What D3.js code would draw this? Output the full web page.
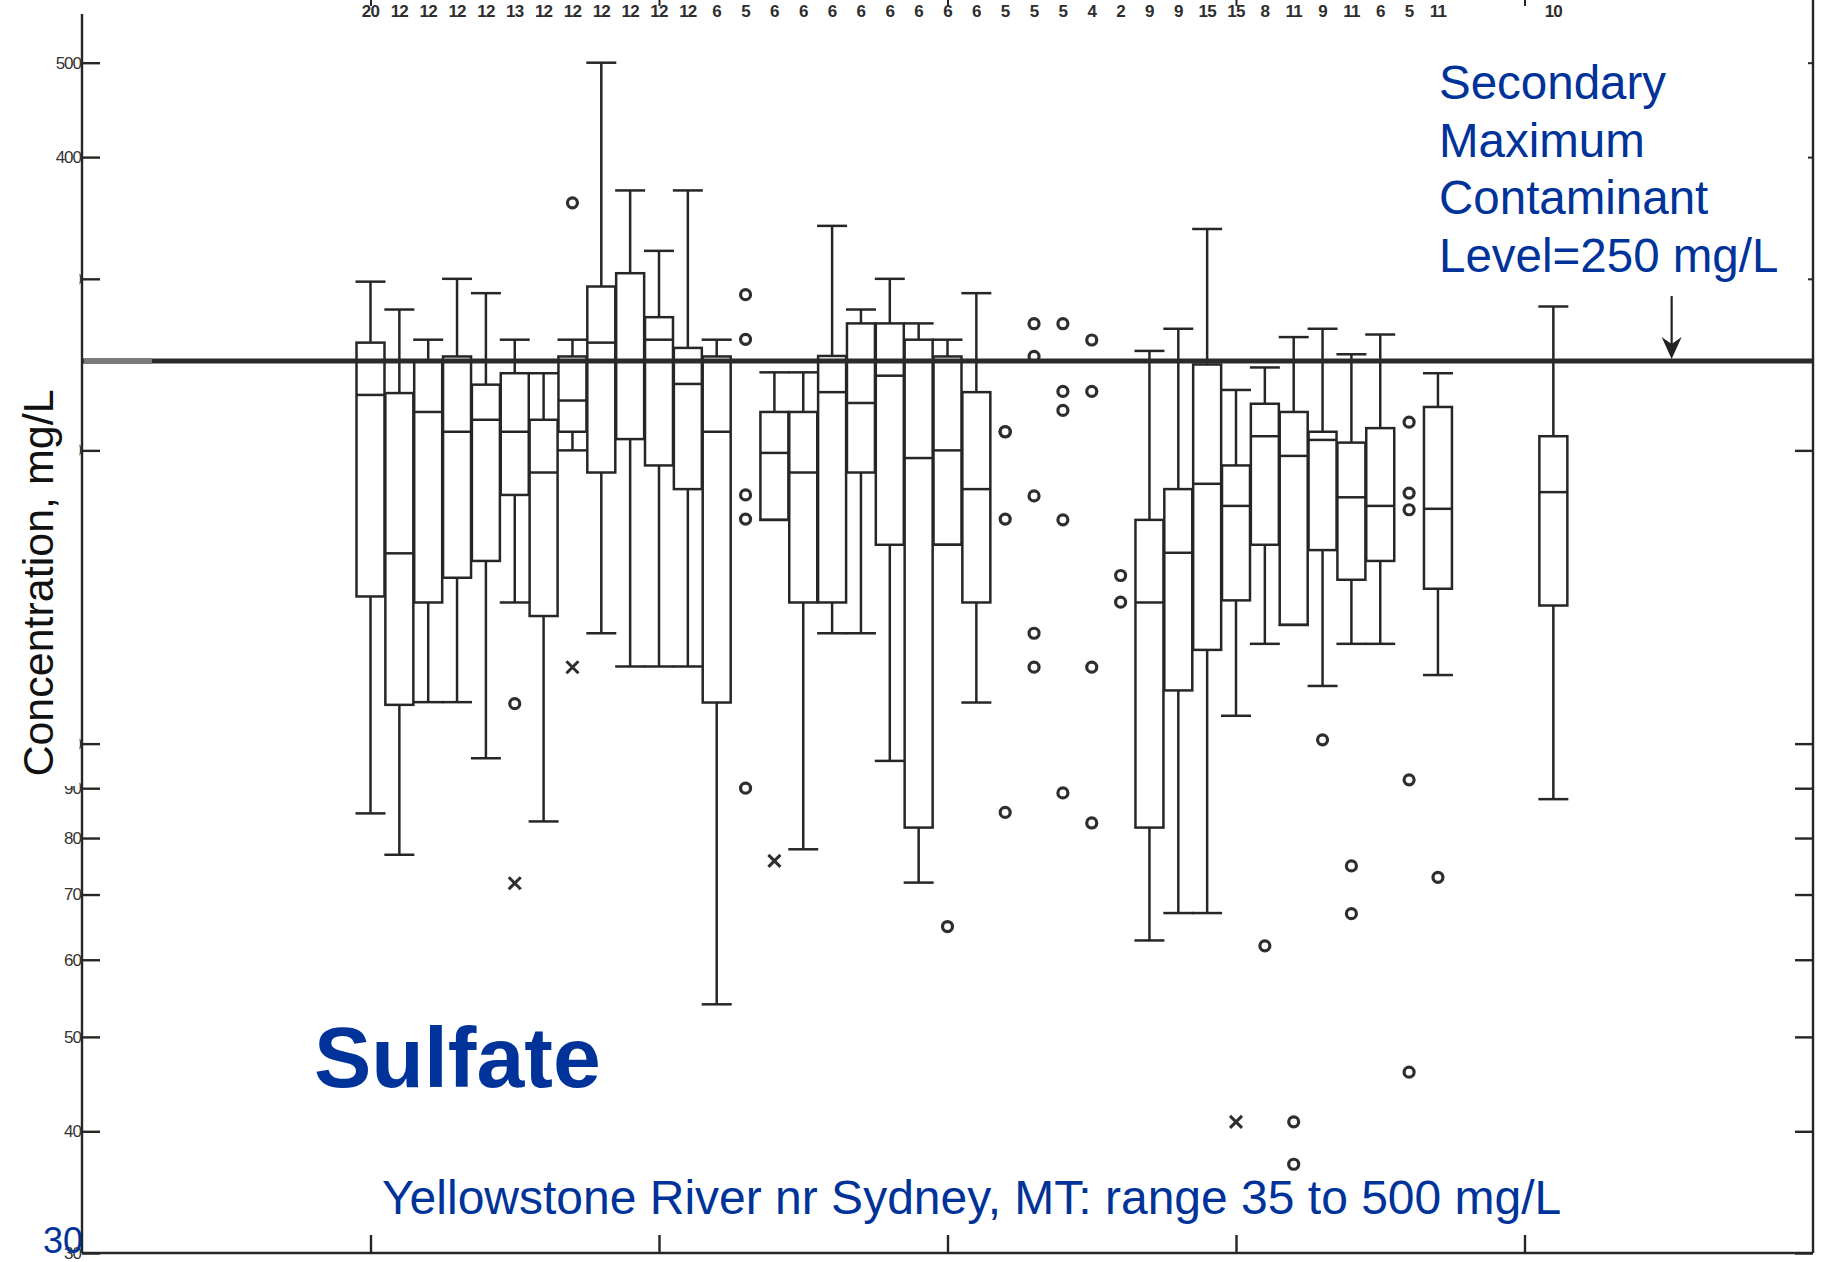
<!DOCTYPE html>
<html>
<head>
<meta charset="utf-8">
<script src="https://cdnjs.cloudflare.com/ajax/libs/d3/7.8.5/d3.min.js"></script>
<style>
  body { margin: 0; background: #fff; }
  text { font-family: "Liberation Sans", Arial, sans-serif; }
</style>
</head>
<body>
<svg></svg>
<script>
// years that have a full box
var boxYears  = [1970,1971,1972,1973,1974,1975,1976,1977,1978,1979,1980,1981,1982,
                 1984,1985,1986,1987,1988,1989,1990,1991,
                 1997,1998,1999,2000,2001,2002,2003,2004,2005,2007,2011];
var whiskerHi = [298,279,259.8,300,290,259.8,240,259.8,500,369.7,320.5,369.7,259.8,
                 240.5,240.5,340,279,300,270,259.8,290,
                 253,266.6,337.5,230.7,243.3,261.4,266.6,251,263,240,281];
var q3        = [258,229,247,249.7,233.6,240,215,249.7,294.6,304,274,254.8,249.7,
                 219,219,250,270,270,259.8,249.7,229.5,
                 169.7,182.5,245,193,223.3,219,209,203.7,210.8,221.6,206.8];
var medians   = [228,156.8,219,209,215,209,189.8,225,258,247,259.8,234,209,
                 198.8,189.8,229.5,223.7,238.6,196.4,200,182.5,
                 139.6,157,184.8,175.4,206.8,197.4,205,179,175.4,174.2,181.2];
var q1        = [141.6,109.6,139.6,148,154,180,135.2,209,189.8,205.4,193,182.5,110.2,
                 169.7,139.6,139.6,189.8,160,82,160,139.6,
                 82,113.4,124.8,140.3,160,132.4,158,147.3,154,144.2,138.6];
var whiskerLo = [84.8,76.9,110.3,110.3,96.6,139.6,83.2,200,129.8,120,120,120,54,
                 169.7,77.9,129.8,129.8,96,72,160,110.2,
                 62.8,67,67,106.8,126.6,132.4,114.6,126.6,126.6,117.6,87.7];

// single values plotted as circles
var circleYears  = [1975,1977,1983,1983,1983,1983,1983,1990,1992,1992,1992,1992,1992,
                    1993,1993,1993,1993,1993,1994,1994,1994,1994,1994,1995,1995,1995,1995,
                    1996,1996,2001,2002,2002,2003,2004,2004,2006,2006,2006,2006,2006,2007];
var circleValues = [109.9,359,289,260,180,170,90,64.9,209,209,209,170,85,
                    269.8,249.7,179.6,129.8,119.8,269.8,229.9,219.8,169.7,89,259.6,229.9,119.8,82.9,
                    148.8,139.7,62,40.9,37,100.9,74.9,66.9,213.8,180.8,173.8,91.8,46,72.9];

// values plotted as crosses
var crossYears  = [1975,1977,1984,2000];
var crossValues = [71.9,119.8,75.8,40.9];

// number of samples written along the top
var countYears = [1970,1971,1972,1973,1974,1975,1976,1977,1978,1979,1980,1981,1982,1983,
                  1984,1985,1986,1987,1988,1989,1990,1991,1992,1993,1994,1995,1996,1997,
                  1998,1999,2000,2001,2002,2003,2004,2005,2006,2007,2011];
var counts     = [20,12,12,12,12,13,12,12,12,12,12,12,6,5,
                  6,6,6,6,6,6,6,6,5,5,5,4,2,9,
                  9,15,15,8,11,9,11,6,5,11,10];

var yTicks = [30,40,50,60,70,80,90,100,200,300,400,500];
var decadeTicks = [1970,1980,1990,2000,2010];
var smcl = 247;

var svgW = 1826, svgH = 1262;
var svg = d3.select("svg").attr("width", svgW).attr("height", svgH);

var xScale = d3.scaleLinear().domain([1960, 2020]).range([82, 1813]);
var yScale = d3.scaleLog().domain([30, 500]).range([1253, 62.7]);

var ink = "#262626";
var blue = "#003399";
var boxW = (xScale(1961) - xScale(1960)) * 0.97;

// frame lines
svg.append("line").attr("x1", 82).attr("x2", 82).attr("y1", 14).attr("y2", 1253)
   .attr("stroke", ink).attr("stroke-width", 2.4);
svg.append("line").attr("x1", 1813).attr("x2", 1813).attr("y1", 0).attr("y2", 1253)
   .attr("stroke", ink).attr("stroke-width", 2.4);
svg.append("line").attr("x1", 82).attr("x2", 1813).attr("y1", 1253).attr("y2", 1253)
   .attr("stroke", ink).attr("stroke-width", 2.6);

// left axis, ticks pointing in
var leftAxis = svg.append("g")
   .attr("transform", "translate(82,0)")
   .call(d3.axisLeft(yScale).tickValues(yTicks).tickFormat(d3.format("d"))
          .tickSizeInner(-18).tickSizeOuter(0).tickPadding(1));
leftAxis.select(".domain").remove();
leftAxis.selectAll("line").attr("stroke", ink).attr("stroke-width", 2.4);
leftAxis.selectAll("text").attr("font-size", 17).attr("fill", "#333")
   .attr("letter-spacing", -1).style("font-family", "Liberation Sans, Arial, sans-serif");

// right axis
var rightAxis = svg.append("g")
   .attr("transform", "translate(1813,0)")
   .call(d3.axisRight(yScale).tickValues(yTicks.filter(function(d){ return d < 300; }))
          .tickFormat("").tickSizeInner(-18).tickSizeOuter(0));
rightAxis.select(".domain").remove();
rightAxis.selectAll("line").attr("stroke", ink).attr("stroke-width", 2.4);
var rightAxis2 = svg.append("g")
   .attr("transform", "translate(1813,0)")
   .call(d3.axisRight(yScale).tickValues(yTicks.filter(function(d){ return d >= 300; }))
          .tickFormat("").tickSizeInner(-5).tickSizeOuter(0));
rightAxis2.select(".domain").remove();
rightAxis2.selectAll("line").attr("stroke", ink).attr("stroke-width", 2);

// bottom and top ticks
var bottomAxis = svg.append("g")
   .attr("transform", "translate(0,1253)")
   .call(d3.axisBottom(xScale).tickValues(decadeTicks).tickFormat("")
          .tickSizeInner(-18).tickSizeOuter(0));
bottomAxis.select(".domain").remove();
bottomAxis.selectAll("line").attr("stroke", ink).attr("stroke-width", 2.4);
var topAxis = svg.append("g")
   .attr("transform", "translate(0,0)")
   .call(d3.axisTop(xScale).tickValues(decadeTicks).tickFormat("")
          .tickSizeInner(-6).tickSizeOuter(0));
topAxis.select(".domain").remove();
topAxis.selectAll("line").attr("stroke", ink).attr("stroke-width", 2);

// y axis title on a white patch that hides some labels
svg.append("rect").attr("x", 0).attr("y", 262).attr("width", 79.5).attr("height", 524)
   .attr("fill", "#fff");
svg.append("text")
   .attr("transform", "translate(53,583) rotate(-90)")
   .attr("text-anchor", "middle")
   .attr("font-size", 43)
   .attr("fill", "#111")
   .text("Concentration, mg/L");

// count labels
svg.selectAll(".count")
   .data(countYears)
   .enter().append("text")
   .attr("class", "count")
   .attr("x", function(d) { return xScale(d); })
   .attr("y", 17)
   .attr("text-anchor", "middle")
   .attr("font-size", 17)
   .attr("font-weight", "bold")
   .attr("letter-spacing", -0.8)
   .attr("fill", "#2e2e2e")
   .style("font-family", "'Liberation Sans Narrow', 'Liberation Sans', Arial, sans-serif")
   .text(function(d, i) { return counts[i]; });

// boxes
var boxes = svg.selectAll(".box")
   .data(boxYears)
   .enter().append("g")
   .attr("class", "box")
   .attr("stroke", ink)
   .attr("stroke-width", 2.5)
   .attr("fill", "none");

boxes.append("line")
   .attr("x1", function(d) { return xScale(d); })
   .attr("x2", function(d) { return xScale(d); })
   .attr("y1", function(d, i) { return yScale(whiskerHi[i]); })
   .attr("y2", function(d, i) { return yScale(q3[i]); });
boxes.append("line")
   .attr("x1", function(d) { return xScale(d); })
   .attr("x2", function(d) { return xScale(d); })
   .attr("y1", function(d, i) { return yScale(q1[i]); })
   .attr("y2", function(d, i) { return yScale(whiskerLo[i]); });
boxes.append("line")
   .attr("x1", function(d) { return xScale(d) - boxW / 2 - 1; })
   .attr("x2", function(d) { return xScale(d) + boxW / 2 + 1; })
   .attr("y1", function(d, i) { return yScale(whiskerHi[i]); })
   .attr("y2", function(d, i) { return yScale(whiskerHi[i]); });
boxes.append("line")
   .attr("x1", function(d) { return xScale(d) - boxW / 2 - 1; })
   .attr("x2", function(d) { return xScale(d) + boxW / 2 + 1; })
   .attr("y1", function(d, i) { return yScale(whiskerLo[i]); })
   .attr("y2", function(d, i) { return yScale(whiskerLo[i]); });
boxes.append("rect")
   .attr("x", function(d) { return xScale(d) - boxW / 2; })
   .attr("width", boxW)
   .attr("y", function(d, i) { return yScale(q3[i]); })
   .attr("height", function(d, i) { return yScale(q1[i]) - yScale(q3[i]); });
boxes.append("line")
   .attr("x1", function(d) { return xScale(d) - boxW / 2; })
   .attr("x2", function(d) { return xScale(d) + boxW / 2; })
   .attr("y1", function(d, i) { return yScale(medians[i]); })
   .attr("y2", function(d, i) { return yScale(medians[i]); });

// outliers
svg.selectAll(".pt")
   .data(circleYears)
   .enter().append("circle")
   .attr("class", "pt")
   .attr("cx", function(d) { return xScale(d); })
   .attr("cy", function(d, i) { return yScale(circleValues[i]); })
   .attr("r", 5)
   .attr("fill", "#fff")
   .attr("stroke", "#2e2e2e")
   .attr("stroke-width", 3.2);

svg.selectAll(".cross")
   .data(crossYears)
   .enter().append("path")
   .attr("class", "cross")
   .attr("d", function(d, i) {
      var cx = xScale(d), cy = yScale(crossValues[i]), s = 6;
      return "M" + (cx - s) + "," + (cy - s) + "L" + (cx + s) + "," + (cy + s) +
             "M" + (cx - s) + "," + (cy + s) + "L" + (cx + s) + "," + (cy - s);
   })
   .attr("stroke", "#2e2e2e")
   .attr("stroke-width", 3);

// secondary maximum contaminant level line
svg.append("line")
   .attr("x1", 82).attr("x2", 1813)
   .attr("y1", yScale(smcl)).attr("y2", yScale(smcl))
   .attr("stroke", "#2a2a2a").attr("stroke-width", 5);
svg.append("line")
   .attr("x1", 84).attr("x2", 152)
   .attr("y1", yScale(smcl)).attr("y2", yScale(smcl))
   .attr("stroke", "#7a7a7a").attr("stroke-width", 6);

// arrow to the line
var arrowX = xScale(2015.1);
var lineY = yScale(smcl);
svg.append("line")
   .attr("x1", arrowX).attr("x2", arrowX)
   .attr("y1", yScale(288)).attr("y2", lineY - 14)
   .attr("stroke", "#222").attr("stroke-width", 2.2);
svg.append("path")
   .attr("d", "M" + (arrowX - 10) + "," + (lineY - 24) + "L" + arrowX + "," + (lineY - 17) +
              "L" + (arrowX + 10) + "," + (lineY - 24) + "L" + arrowX + "," + (lineY - 2) + "Z")
   .attr("fill", "#222");

// annotations
var noteLines = ["Secondary", "Maximum", "Contaminant", "Level=250 mg/L"];
svg.selectAll(".note")
   .data(noteLines)
   .enter().append("text")
   .attr("class", "note")
   .attr("x", 1439)
   .attr("y", function(d, i) { return 99 + i * 57.5; })
   .attr("font-size", 47.5)
   .attr("fill", blue)
   .text(function(d) { return d; });

svg.append("text")
   .attr("x", 314).attr("y", 1087)
   .attr("font-size", 86).attr("font-weight", "bold")
   .attr("fill", blue)
   .text("Sulfate");

svg.append("text")
   .attr("x", 382).attr("y", 1214)
   .attr("font-size", 48)
   .attr("fill", blue)
   .text("Yellowstone River nr Sydney, MT: range 35 to 500 mg/L");

svg.append("text")
   .attr("x", 43).attr("y", 1253)
   .attr("font-size", 36)
   .attr("fill", blue)
   .text("30");
</script>
</body>
</html>
